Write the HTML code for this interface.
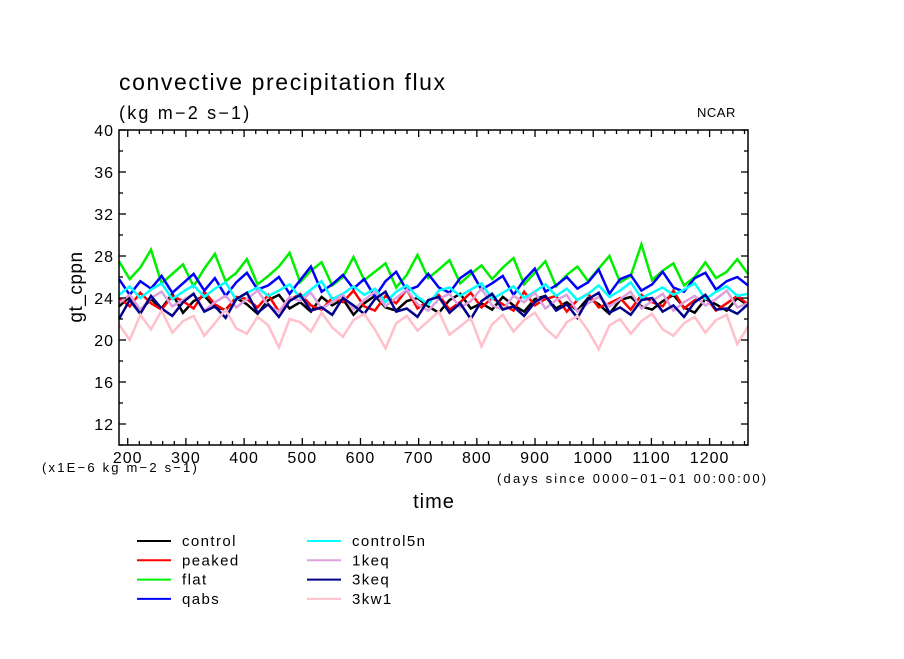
<!DOCTYPE html>
<html><head><meta charset="utf-8"><style>
body{margin:0;background:#fff;width:904px;height:654px;overflow:hidden}
svg text{font-family:"Liberation Sans",sans-serif}
</style></head><body>
<svg id="chart" width="904" height="654" xmlns="http://www.w3.org/2000/svg">
<text x="119" y="90" font-size="23" letter-spacing="1.6">convective precipitation flux</text>
<text x="119" y="119" font-size="18" letter-spacing="2.2">(kg m−2 s−1)</text>
<text x="697" y="117" font-size="13" letter-spacing="0.5">NCAR</text>
<text transform="translate(82,287) rotate(-90)" text-anchor="middle" font-size="19" letter-spacing="0.5">gt_cppn</text>
<text x="434" y="508" text-anchor="middle" font-size="20" letter-spacing="1">time</text>
<text x="42" y="472" font-size="13" letter-spacing="2.2">(x1E−6 kg m−2 s−1)</text>
<text x="497" y="483" font-size="13" letter-spacing="2.2">(days since 0000−01−01 00:00:00)</text>
<g id="series"></g>
<g id="axes"></g>
<g id="legend"></g>
</svg>
<script>
const yTicks=[12,16,20,24,28,32,36,40];
const xTicks=[200,300,400,500,600,700,800,900,1000,1100,1200];
const seriesNames=["control","peaked","flat","qabs","control5n","1keq","3keq","3kw1"];
const seriesColors=["#000000","#ff0000","#00ee00","#0000ff","#00ffff","#dda0dd","#00008b","#ffc0cb"];
const control=[23.2,24.1,22.8,23.9,23.0,24.4,22.6,23.7,24.2,23.1,22.9,24.0,23.4,22.5,23.8,24.3,23.0,23.6,22.7,24.1,23.3,23.9,22.4,23.5,24.2,23.1,22.8,23.7,24.0,23.2,22.6,23.8,24.4,23.0,23.5,22.9,24.1,23.3,22.7,23.9,24.2,23.0,23.6,22.8,24.0,23.4,22.5,23.8,24.1,23.2,22.9,23.7,24.3,23.1,22.6,23.9,23.4,22.8,24.0,23.3];
const peaked=[24.0,23.2,24.5,23.5,22.9,24.2,23.7,23.0,24.6,23.4,22.8,24.1,23.9,23.1,24.3,22.7,23.8,24.4,23.3,22.9,24.0,23.6,24.7,23.2,22.8,24.2,23.5,24.8,23.0,23.7,24.3,22.9,23.6,24.5,23.1,24.0,23.4,22.8,24.6,23.3,23.9,24.2,22.7,23.8,24.4,23.1,23.5,24.0,22.9,24.3,23.6,23.2,24.7,23.0,23.8,24.1,22.8,23.5,24.2,23.4];
const flat=[27.5,25.8,26.9,28.6,25.4,26.3,27.2,25.1,26.8,28.2,25.6,26.4,27.7,25.3,26.1,27.0,28.3,25.5,26.6,27.4,25.2,26.0,27.9,25.7,26.5,27.3,25.0,26.2,28.1,25.9,26.7,27.6,25.4,26.3,27.1,25.8,26.9,27.8,25.3,26.4,27.5,25.1,26.2,27.0,25.6,26.8,28.0,25.5,26.1,29.1,25.7,26.6,27.3,25.2,26.0,27.4,25.9,26.5,27.7,26.3];
const qabs=[25.8,24.3,25.6,24.9,26.1,24.5,25.4,26.3,24.7,25.9,24.2,25.5,26.4,24.8,25.2,26.0,24.4,25.7,27.0,24.6,25.3,26.2,24.9,25.8,24.1,25.6,26.5,24.7,25.1,26.3,25.0,24.5,25.9,26.6,24.8,25.4,26.1,24.3,25.7,26.8,24.6,25.2,26.0,24.9,25.5,26.7,24.4,25.8,26.2,24.7,25.3,26.5,25.0,24.6,25.9,26.4,24.8,25.6,26.0,25.2];
const control5n=[24.3,25.1,24.0,24.8,25.4,23.9,24.6,25.2,24.1,24.9,25.5,23.8,24.5,25.0,24.2,24.7,25.3,24.0,24.8,25.6,23.9,24.4,25.1,24.3,24.9,23.6,24.6,25.2,24.1,23.4,24.7,25.0,24.2,24.8,25.4,23.9,24.5,25.1,24.0,24.6,25.3,24.2,24.9,23.8,24.4,25.2,24.1,24.7,25.5,24.0,24.5,25.0,24.3,24.8,25.4,23.9,24.6,25.1,24.2,24.4];
const keq1=[23.5,24.3,22.9,24.0,24.6,23.2,23.8,24.4,22.8,23.6,24.2,23.1,23.9,24.7,23.3,22.7,24.1,23.7,24.5,23.0,23.6,24.3,22.9,23.8,24.6,23.2,24.0,24.8,23.4,22.8,23.9,24.4,23.1,23.7,24.9,23.3,22.9,24.2,23.6,24.5,23.0,23.8,24.3,22.7,23.5,24.1,23.2,23.9,24.6,23.0,23.7,24.4,22.8,23.6,24.2,23.3,23.9,24.7,23.1,23.5];
const keq3=[22.0,23.8,22.5,24.2,23.0,22.3,23.6,24.4,22.7,23.2,22.1,23.9,24.5,22.6,23.4,22.2,23.7,24.3,22.8,23.1,22.4,24.0,23.3,22.5,23.9,24.6,22.7,23.0,22.2,23.8,24.1,22.6,23.5,22.0,23.7,24.4,22.9,23.2,22.3,23.6,24.2,22.8,23.4,22.1,23.9,24.5,22.6,23.1,22.4,23.8,24.0,22.7,23.3,22.2,23.6,24.3,22.9,23.0,22.5,23.4];
const kw1=[21.5,20.0,22.4,21.0,22.8,20.7,21.8,22.3,20.4,21.6,22.9,21.1,20.6,22.2,21.4,19.3,22.0,21.7,20.8,22.6,21.2,20.3,21.9,22.5,21.0,19.2,21.6,22.3,20.9,21.8,22.7,20.5,21.3,22.1,19.4,21.5,22.4,20.8,21.9,22.6,21.1,20.2,21.7,22.3,20.9,19.1,21.4,22.0,20.6,21.8,22.5,21.0,20.4,21.6,22.2,20.7,21.9,22.4,19.6,21.3];
const seriesData=[control,peaked,flat,qabs,control5n,keq1,keq3,kw1];
const dayStart=185, dayEnd=1266, yMin=10, yMax=40;
const L=119,R=748,T=130,B=445;
const NS="http://www.w3.org/2000/svg";
function xs(d){return L+(d-dayStart)/(dayEnd-dayStart)*(R-L);}
function ys(v){return B-(v-yMin)/(yMax-yMin)*(B-T);}
function mk(tag,attrs,parent){const e=document.createElementNS(NS,tag);for(const k in attrs)e.setAttribute(k,attrs[k]);parent.appendChild(e);return e;}
const sg=document.getElementById('series');
seriesData.forEach((arr,si)=>{
  const n=arr.length;
  const pts=arr.map((v,i)=>xs(dayStart+i*(dayEnd-dayStart)/(n-1)).toFixed(1)+','+ys(v).toFixed(1)).join(' ');
  const p=mk('polyline',{points:pts,fill:'none',stroke:seriesColors[si],'stroke-width':2.5},sg);
  
  
});
const ag=document.getElementById('axes');
const fr=mk('rect',{x:L,y:T,width:R-L,height:B-T,fill:'none',stroke:'#000','stroke-width':1.5},ag);


for(let v=yMin;v<=yMax;v+=2){
  const len=(v%4===0)?7:4;const y=ys(v);
  mk('line',{x1:L,x2:L+len,y1:y,y2:y,stroke:'#000','stroke-width':1.3},ag);
  mk('line',{x1:R,x2:R-len,y1:y,y2:y,stroke:'#000','stroke-width':1.3},ag);
}
yTicks.forEach(v=>{
  const t=mk('text',{x:L-5,y:ys(v)+6,'text-anchor':'end','font-size':16,'letter-spacing':1},ag);t.textContent=v;
  
  
});
for(let d=200;d<=dayEnd;d+=20){
  const len=(d%100===0)?7:4;const x=xs(d);
  mk('line',{x1:x,x2:x,y1:B,y2:B-len,stroke:'#000','stroke-width':1.3},ag);
  mk('line',{x1:x,x2:x,y1:T,y2:T+len,stroke:'#000','stroke-width':1.3},ag);
}
xTicks.forEach(d=>{
  const t=mk('text',{x:xs(d),y:B+18,'text-anchor':'middle','font-size':16,'letter-spacing':1},ag);t.textContent=d;
  
  
});
const lg=document.getElementById('legend');
seriesNames.forEach((nm,i)=>{
  const col=Math.floor(i/4),row=i%4;
  const x0=col?307:137,y0=541+row*19.3;
  const g=mk('g',{},lg);
  
  
  mk('line',{x1:x0,x2:x0+34,y1:y0,y2:y0,stroke:seriesColors[i],'stroke-width':2},g);
  const t=mk('text',{x:x0+45,y:y0+5,'font-size':15,'letter-spacing':1.4},g);t.textContent=nm;
});
</script>
</body></html>
